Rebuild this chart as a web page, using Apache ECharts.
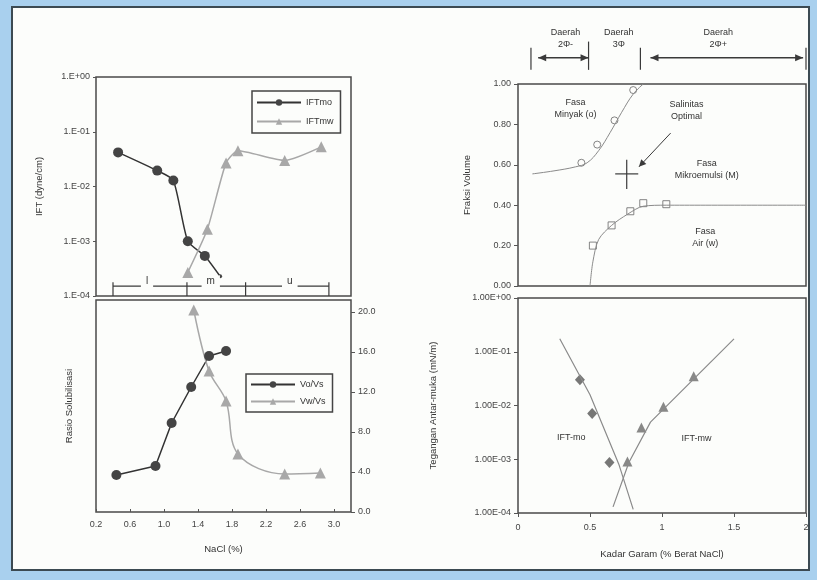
<!DOCTYPE html>
<html>
<head>
<meta charset="utf-8">
<script src="https://cdn.jsdelivr.net/npm/echarts@6/dist/echarts.min.js"></script>
<style>
  html, body { margin: 0; padding: 0; background: #a9d0ee; }
  #main { width: 817px; height: 580px; }
</style>
</head>
<body>
<div id="main"></div>
<script>
// kiri atas: IFT vs NaCl
const iftMo = [[0.46, 0.042], [0.92, 0.0195], [1.11, 0.0129], [1.28, 0.001], [1.48, 0.00054], [1.66, 0.00023]]
const iftMw = [[1.28, 0.00027], [1.51, 0.00165], [1.73, 0.027], [1.87, 0.045], [2.42, 0.030], [2.85, 0.053]]
const regionX = [0.4, 1.27, 1.96, 2.94]
const regionLabels = ['l', 'm', 'u']
const regionLabelX = [0.8, 1.55, 2.48]
// kiri bawah: rasio solubilisasi
const voVs = [[0.44, 3.7], [0.9, 4.6], [1.09, 8.9], [1.32, 12.5], [1.53, 15.6], [1.73, 16.1]]
const vwVs = [[1.35, 20.2], [1.53, 14.1], [1.73, 11.1], [1.87, 5.8], [2.42, 3.8], [2.84, 3.9]]
// kanan atas: fraksi volume
const oilPts = [[0.44, 0.61], [0.55, 0.70], [0.67, 0.82], [0.80, 0.97]]
const oilLine = [[0.10, 0.555], [0.25, 0.57], [0.40, 0.59], [0.48, 0.61], [0.56, 0.67], [0.64, 0.76], [0.72, 0.86], [0.80, 0.95], [0.87, 1.0]]
const waterPts = [[0.52, 0.20], [0.65, 0.30], [0.78, 0.37], [0.87, 0.41], [1.03, 0.405]]
const waterLine = [[0.50, 0.0], [0.52, 0.12], [0.56, 0.23], [0.65, 0.30], [0.76, 0.355], [0.87, 0.395], [1.03, 0.40], [2.0, 0.40]]
const optimum = [0.755, 0.555]
// kanan bawah: tegangan antar-muka vs kadar garam
const moPts = [[0.43, 0.030], [0.515, 0.0071], [0.635, 0.00087]]
const mwPts = [[0.76, 0.00091], [0.857, 0.0039], [1.01, 0.0095], [1.22, 0.035]]
const moLine = [[0.29, 0.174], [0.50, 0.0158], [0.70, 0.00081], [0.80, 0.000117]]
const mwLine = [[0.66, 0.00013], [0.77, 0.00087], [0.92, 0.0049], [1.50, 0.174]]

const FONT = 'Liberation Sans'
const ink = '#3a3a3a'
const paper = '#fcfdfb'

function logLabel(digits) {
  return function(v) {
    const e = Math.round(Math.log10(v))
    const ex = (e < 0 ? '-' : '+') + String(Math.abs(e)).padStart(2, '0')
    return (digits ? '1.' + '0'.repeat(digits) : '1.') + 'E' + ex
  }
}

const lbl = { fontSize: 9, color: '#444', fontFamily: FONT }
const nameSt = { fontSize: 9.5, color: '#333', fontFamily: FONT }
const gridBase = { show: true, borderColor: '#4a4a4a', borderWidth: 1.5, containLabel: false }

const chart = echarts.init(document.getElementById('main'))

chart.setOption({
  backgroundColor: '#a9d0ee',
  animation: false,
  textStyle: { fontFamily: FONT },
  grid: [
    Object.assign({ left: 96, top: 77, width: 255, height: 219 }, gridBase),
    Object.assign({ left: 96, top: 300, width: 255, height: 212 }, gridBase),
    Object.assign({ left: 518, top: 84, width: 288, height: 202 }, gridBase),
    Object.assign({ left: 518, top: 298, width: 288, height: 215 }, gridBase)
  ],
  legend: [
    {
      data: ['IFTmo', 'IFTmw'], left: 252, top: 91, orient: 'vertical',
      itemWidth: 44, itemHeight: 8, itemGap: 10, padding: [7, 7, 7, 4],
      borderColor: '#444', borderWidth: 1.5, backgroundColor: paper,
      textStyle: { fontSize: 9, color: '#333' }
    },
    {
      data: ['Vo/Vs', 'Vw/Vs'], left: 246, top: 374, orient: 'vertical',
      itemWidth: 44, itemHeight: 8, itemGap: 8, padding: [6, 7, 6, 4],
      borderColor: '#444', borderWidth: 1.5, backgroundColor: paper,
      textStyle: { fontSize: 9, color: '#333' }
    }
  ],
  xAxis: [
    {
      gridIndex: 0, type: 'value', min: 0.2, max: 3.2,
      axisLine: { show: false }, axisTick: { show: false }, axisLabel: { show: false }, splitLine: { show: false }
    },
    {
      gridIndex: 1, type: 'value', min: 0.2, max: 3.2, interval: 0.4,
      name: 'NaCl (%)', nameLocation: 'middle', nameGap: 32, nameTextStyle: nameSt,
      axisLine: { show: false },
      axisTick: { inside: true, length: 3, lineStyle: { color: '#555' } },
      axisLabel: Object.assign({ showMaxLabel: false, margin: 8, formatter: v => v.toFixed(1) }, lbl),
      splitLine: { show: false }
    },
    {
      gridIndex: 2, type: 'value', min: 0, max: 2,
      axisLine: { show: false }, axisTick: { show: false }, axisLabel: { show: false }, splitLine: { show: false }
    },
    {
      gridIndex: 3, type: 'value', min: 0, max: 2, interval: 0.5,
      name: 'Kadar Garam (% Berat NaCl)', nameLocation: 'middle', nameGap: 36, nameTextStyle: nameSt,
      axisLine: { show: false },
      axisTick: { length: 4, lineStyle: { color: '#555' } },
      axisLabel: Object.assign({ margin: 10, formatter: v => String(v) }, lbl),
      splitLine: { show: false }
    }
  ],
  yAxis: [
    {
      gridIndex: 0, type: 'log', logBase: 10, min: 0.0001, max: 1,
      name: 'IFT (dyne/cm)', nameLocation: 'middle', nameGap: 52, nameTextStyle: nameSt,
      axisLine: { show: false },
      axisTick: { length: 3, lineStyle: { color: '#555' } },
      axisLabel: Object.assign({ margin: 6, formatter: logLabel(0) }, lbl),
      splitLine: { show: false }
    },
    {
      gridIndex: 1, type: 'value', position: 'right', min: 0, max: 21.2, interval: 4,
      axisLine: { show: false },
      axisTick: { length: 4, lineStyle: { color: '#555' } },
      axisLabel: Object.assign({ showMaxLabel: false, margin: 7, formatter: v => v.toFixed(1) }, lbl),
      splitLine: { show: false }
    },
    {
      gridIndex: 2, type: 'value', min: 0, max: 1, interval: 0.2,
      name: 'Fraksi Volume', nameLocation: 'middle', nameGap: 46, nameTextStyle: nameSt,
      axisLine: { show: false },
      axisTick: { length: 4, lineStyle: { color: '#555' } },
      axisLabel: Object.assign({ margin: 7, formatter: v => v.toFixed(2) }, lbl),
      splitLine: { show: false }
    },
    {
      gridIndex: 3, type: 'log', logBase: 10, min: 0.0001, max: 1,
      name: 'Tegangan Antar-muka (mN/m)', nameLocation: 'middle', nameGap: 80, nameTextStyle: nameSt,
      axisLine: { show: false },
      axisTick: { length: 4, lineStyle: { color: '#555' } },
      axisLabel: Object.assign({ margin: 7, formatter: logLabel(2) }, lbl),
      splitLine: { show: false }
    },
    {
      gridIndex: 1, type: 'value', position: 'left', min: 0, max: 21.2,
      name: 'Rasio Solubilisasi', nameLocation: 'middle', nameGap: 22, nameTextStyle: nameSt,
      axisLine: { show: false }, axisTick: { show: false }, axisLabel: { show: false }, splitLine: { show: false }
    }
  ],
  series: [
    {
      name: 'IFTmo', type: 'line', xAxisIndex: 0, yAxisIndex: 0,
      data: iftMo.map((p, i) => i === iftMo.length - 1 ? { value: p, symbolSize: 4 } : p),
      symbol: 'circle', symbolSize: 10, smooth: 0.2,
      lineStyle: { color: '#333', width: 1.5 }, itemStyle: { color: '#444' }
    },
    {
      name: 'IFTmw', type: 'line', xAxisIndex: 0, yAxisIndex: 0, data: iftMw,
      symbol: 'triangle', symbolSize: 11, smooth: 0.2,
      lineStyle: { color: '#a8a8a8', width: 1.5 }, itemStyle: { color: '#a8a8a8' }
    },
    {
      name: 'Vo/Vs', type: 'line', xAxisIndex: 1, yAxisIndex: 1, data: voVs,
      symbol: 'circle', symbolSize: 10,
      lineStyle: { color: '#333', width: 1.5 }, itemStyle: { color: '#444' }
    },
    {
      name: 'Vw/Vs', type: 'line', xAxisIndex: 1, yAxisIndex: 1, data: vwVs,
      symbol: 'triangle', symbolSize: 11, smooth: 0.35,
      lineStyle: { color: '#a8a8a8', width: 1.5 }, itemStyle: { color: '#a8a8a8' }
    },
    {
      name: 'batas minyak', type: 'line', xAxisIndex: 2, yAxisIndex: 2, data: oilLine,
      showSymbol: false, smooth: 0.4, lineStyle: { color: '#8a8a8a', width: 1 }
    },
    {
      name: 'fasa minyak', type: 'scatter', xAxisIndex: 2, yAxisIndex: 2, data: oilPts,
      symbol: 'circle', symbolSize: 7,
      itemStyle: { color: paper, borderColor: '#666', borderWidth: 1 }
    },
    {
      name: 'batas air', type: 'line', xAxisIndex: 2, yAxisIndex: 2, data: waterLine,
      showSymbol: false, smooth: 0.3, lineStyle: { color: '#8a8a8a', width: 1 }
    },
    {
      name: 'fasa air', type: 'scatter', xAxisIndex: 2, yAxisIndex: 2, data: waterPts,
      symbol: 'rect', symbolSize: 7,
      itemStyle: { color: paper, borderColor: '#666', borderWidth: 1 }
    },
    {
      name: 'garis mo', type: 'line', xAxisIndex: 3, yAxisIndex: 3, data: moLine,
      showSymbol: false, lineStyle: { color: '#8a8a8a', width: 1.2 }
    },
    {
      name: 'IFT-mo', type: 'scatter', xAxisIndex: 3, yAxisIndex: 3, data: moPts,
      symbol: 'diamond', symbolSize: [10, 11], itemStyle: { color: '#555' }
    },
    {
      name: 'garis mw', type: 'line', xAxisIndex: 3, yAxisIndex: 3, data: mwLine,
      showSymbol: false, lineStyle: { color: '#8a8a8a', width: 1.2 }
    },
    {
      name: 'IFT-mw', type: 'scatter', xAxisIndex: 3, yAxisIndex: 3, data: mwPts,
      symbol: 'triangle', symbolSize: 10, itemStyle: { color: '#6a6a6a' }
    }
  ]
})

// anotasi, posisinya diambil dari sumbu masing-masing panel
const P = (g, x, y) => chart.convertToPixel({ xAxisIndex: g, yAxisIndex: g }, [x, y])
const els = [{
  type: 'rect', z: -10, silent: true,
  shape: { x: 12, y: 7, width: 797, height: 563 },
  style: { fill: paper, stroke: '#3c4a52', lineWidth: 2 }
}]
function seg(a, b, extra) {
  els.push({ type: 'line', z: 50, shape: { x1: a[0], y1: a[1], x2: b[0], y2: b[1] },
    style: Object.assign({ stroke: ink, lineWidth: 1.2 }, extra) })
}
function txt(p, s, extra) {
  els.push({ type: 'text', z: 60, x: p[0], y: p[1],
    style: Object.assign({ text: s, fill: '#333', font: '9px ' + FONT, align: 'center', verticalAlign: 'middle', lineHeight: 12 }, extra) })
}
function head(tip, from, size) {
  const ang = Math.atan2(tip[1] - from[1], tip[0] - from[0])
  const s = size || 8
  const pts = [tip,
    [tip[0] - s * Math.cos(ang) + 3.5 * Math.sin(ang), tip[1] - s * Math.sin(ang) - 3.5 * Math.cos(ang)],
    [tip[0] - s * Math.cos(ang) - 3.5 * Math.sin(ang), tip[1] - s * Math.sin(ang) + 3.5 * Math.cos(ang)]]
  els.push({ type: 'polygon', z: 50, shape: { points: pts }, style: { fill: ink } })
}

// daerah l / m / u di panel kiri atas
const yBar = 0.000152
seg(P(0, regionX[0], yBar), P(0, regionX[3], yBar))
regionX.forEach(x => seg(P(0, x, 0.000178), P(0, x, 0.0001)))
regionLabels.forEach((s, i) => {
  txt(P(0, regionLabelX[i], 0.000185), s, { backgroundColor: paper, padding: [0, 5], font: '10px ' + FONT })
})

// kepala panel kanan atas
const hdrX = [0.09, 0.49, 0.85, 2.0]
hdrX.forEach((x, i) => seg(P(2, x, i === 1 ? 1.21 : 1.18), P(2, x, 1.07)))
const a1 = [P(2, 0.14, 1.13), P(2, 0.49, 1.13)]
seg(a1[0], a1[1], { lineWidth: 1.6 }); head(a1[0], a1[1]); head(a1[1], a1[0])
const a3 = [P(2, 0.92, 1.13), P(2, 1.98, 1.13)]
seg(a3[0], a3[1], { lineWidth: 1.6 }); head(a3[0], a3[1]); head(a3[1], a3[0])
txt(P(2, 0.33, 1.225), 'Daerah\n2Φ-')
txt(P(2, 0.70, 1.225), 'Daerah\n3Φ')
txt(P(2, 1.39, 1.225), 'Daerah\n2Φ+')

// salinitas optimal
seg(P(2, optimum[0] - 0.08, optimum[1]), P(2, optimum[0] + 0.08, optimum[1]))
seg(P(2, optimum[0], optimum[1] - 0.075), P(2, optimum[0], optimum[1] + 0.07))
const pa = [P(2, 1.06, 0.757), P(2, 0.84, 0.59)]
seg(pa[0], pa[1], { lineWidth: 1 }); head(pa[1], pa[0], 7)
txt(P(2, 1.17, 0.87), 'Salinitas\nOptimal')
txt(P(2, 0.40, 0.88), 'Fasa\nMinyak (o)')
txt(P(2, 1.31, 0.575), 'Fasa\nMikroemulsi (M)')
txt(P(2, 1.30, 0.24), 'Fasa\nAir (w)')

// label panel kanan bawah
txt(P(3, 0.37, 0.0025), 'IFT-mo')
txt(P(3, 1.24, 0.0024), 'IFT-mw')

chart.setOption({ graphic: { elements: els } })
</script>
</body>
</html>
